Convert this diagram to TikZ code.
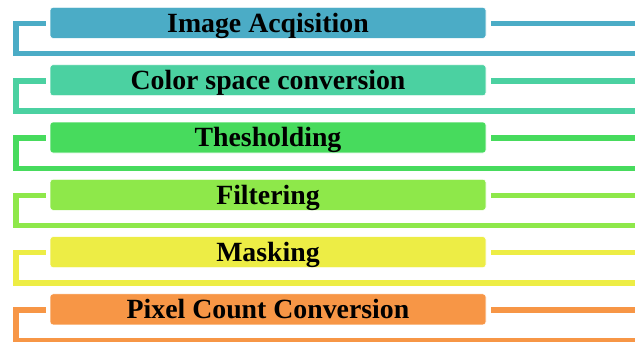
\documentclass[tikz,border=0pt]{standalone}
\usepackage{fontspec}
\setmainfont{Liberation Serif}
\definecolor{c0}{HTML}{4BACC6}
\definecolor{c1}{HTML}{4BD1A1}
\definecolor{c2}{HTML}{47DB5D}
\definecolor{c3}{HTML}{8EE84A}
\definecolor{c4}{HTML}{EDED45}
\definecolor{c5}{HTML}{F79646}
\begin{document}
\begin{tikzpicture}[x=1pt,y=-1pt,
  stepbox/.style={draw=white, line width=0.6pt, rounded corners=3pt,
    minimum width=436pt, text height=18.8pt, text depth=0pt,
    inner xsep=0pt, inner ysep=6.1pt,
    font=\bfseries\fontsize{27.8}{30}\selectfont, text=black},
  link/.style={line width=5.4pt}]
\useasboundingbox (0,0) rectangle (635,341);
\foreach \i/\txt in {0/Image Acqisition,1/Color space conversion,2/Thesholding,3/Filtering,4/Masking,5/Pixel Count Conversion} {
  \pgfmathsetmacro\t{23.5+57.3*\i}
  \pgfmathsetmacro\c{\t-0.6}
  \pgfmathsetmacro\bt{\t+30.2}
  \node[stepbox, fill=c\i] (b\i) at (268,\c) {\txt};
  \coordinate (tick\i) at (45.5,\t);
  \coordinate (ctop\i) at (15.8,\t);
  \coordinate (cbot\i) at (15.8,\bt);
  \coordinate (bend\i) at (636,\bt);
  \coordinate (rs\i) at (491,\t);
  \coordinate (re\i) at (636,\t);
  \draw[link, draw=c\i] (tick\i) -- (ctop\i) -- (cbot\i) -- (bend\i);
  \draw[link, draw=c\i] (rs\i) -- (re\i);
}
\end{tikzpicture}
\end{document}
